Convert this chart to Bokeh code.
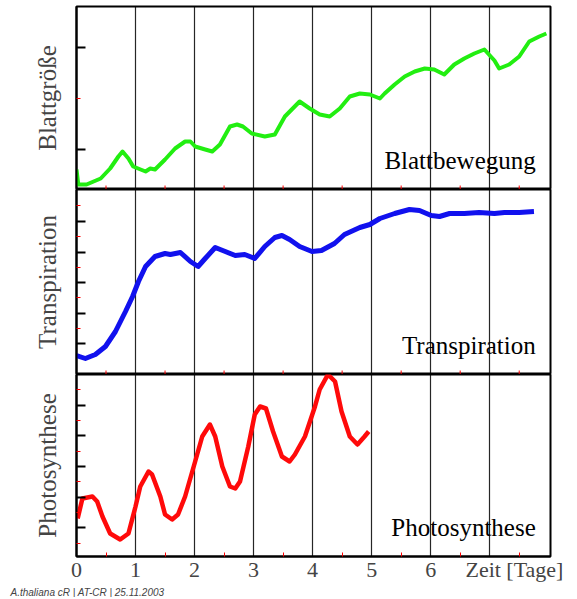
import math
from bokeh.plotting import figure
from bokeh.layouts import column
from bokeh.models import FixedTicker, Label, Range1d, Title
from bokeh.embed import file_html
from bokeh.resources import INLINE

# Blattbewegung (Blattgröße, arbitrary units)
leaf_day = [0, .03, .17, .41, .57, .71, .78, .88, .96, 1.17, 1.25, 1.33, 1.50, 1.67, 1.84, 1.93, 2.01, 2.18, 2.30, 2.43,
            2.60, 2.72, 2.82, 2.97, 3.19, 3.36, 3.53, 3.78, 3.95, 4.12, 4.29, 4.46, 4.63, 4.80, 4.97, 5.14, 5.22, 5.39,
            5.56, 5.73, 5.90, 6.06, 6.23, 6.40, 6.57, 6.74, 6.91, 7.08, 7.16, 7.33, 7.50, 7.67, 7.84, 7.96]
leaf_val = [20, 5, 5, 11, 21, 33, 38, 31, 23, 18, 21, 20, 30, 41, 48, 48, 43, 40, 38, 45, 63, 65, 63, 56, 53, 55, 73, 88,
            81, 75, 73, 81, 93, 96, 95, 91, 96, 105, 113, 118, 121, 120, 115, 125, 131, 136, 140, 129, 121, 125, 133,
            148, 153, 156]
# Transpiration
tr_day = [0, .15, .32, .49, .66, .83, .95, 1.05, 1.17, 1.33, 1.50, 1.59, 1.76, 1.93, 2.06, 2.18, 2.35, 2.52, 2.69, 2.85,
          3.02, 3.19, 3.36, 3.48, 3.61, 3.78, 3.99, 4.15, 4.37, 4.54, 4.80, 4.97, 5.14, 5.39, 5.64, 5.81, 6.01, 6.15,
          6.32, 6.57, 6.82, 7.08, 7.25, 7.50, 7.75]
tr_val = [19, 16, 20, 28, 43, 63, 78, 93, 108, 118, 121, 120, 122, 113, 108, 116, 127, 123, 119, 120, 116, 128, 137, 139,
          135, 128, 123, 124, 131, 140, 147, 150, 156, 161, 165, 164, 159, 158, 161, 161, 162, 161, 162, 162, 163]
# Photosynthese
ps_day = [.02, .10, .27, .35, .44, .57, .74, .88, 1.00, 1.08, 1.22, 1.28, 1.42, 1.50, 1.62, 1.72, 1.84, 2.01, 2.13, 2.26,
          2.35, 2.47, 2.60, 2.69, 2.77, 2.91, 3.02, 3.11, 3.21, 3.33, 3.48, 3.61, 3.70, 3.87, 4.04, 4.12, 4.26, 4.38,
          4.49, 4.63, 4.76, 4.88, 4.95]
ps_val = [38, 58, 60, 55, 40, 23, 17, 23, 50, 70, 85, 82, 60, 42, 37, 42, 60, 95, 120, 132, 120, 90, 70, 68, 75, 110, 142,
          150, 148, 125, 100, 95, 102, 120, 150, 167, 182, 175, 145, 120, 112, 120, 125]

day_lines = [1, 2, 3, 4, 5, 6, 7]
half_days = [0.5, 1.5, 2.5, 3.5, 4.5, 5.5, 6.5, 7.5]
x_labels = {0: "0", 1: "1", 2: "2", 3: "3", 4: "4", 5: "5", 6: "6", 7: "\u00a0" * 9 + "Zeit [Tage]"}

FONT = "Liberation Serif"
XMAX = 8.03

panels = [
    dict(name="Blattgröße", text="Blattbewegung", x=leaf_day, y=leaf_val, color="#22ee11", w=4, ymax=183,
         major=[40, 142], minor=[91], fh=183),
    dict(name="Transpiration", text="Transpiration", x=tr_day, y=tr_val, color="#1111ee", w=5, ymax=185,
         major=[31, 61, 92, 122, 153], minor=[46, 77, 107, 138, 169], fh=185),
    dict(name="Photosynthese", text="Photosynthese", x=ps_day, y=ps_val, color="#ff0a0a", w=4.5, ymax=182,
         major=[29, 59, 90, 121, 151], minor=[13, 44, 75, 105, 136, 167], fh=182),
]

figs = []
for i, pd_ in enumerate(panels):
    last = i == 2
    p = figure(frame_width=474, frame_height=pd_["fh"], output_backend="svg", toolbar_location=None,
               x_range=Range1d(0, XMAX), y_range=Range1d(0, pd_["ymax"]),
               min_border_left=76, min_border_right=27,
               min_border_top=6 if i == 0 else 0, min_border_bottom=0)
    p.background_fill_color = "white"
    p.outline_line_color = "black"
    p.outline_line_width = 2
    p.ygrid.visible = False
    p.xgrid.ticker = FixedTicker(ticks=day_lines)
    p.xgrid.grid_line_color = "black"
    p.xgrid.grid_line_width = 1.2
    p.xgrid.grid_line_alpha = 0.85

    ya = p.yaxis[0]
    ya.ticker = FixedTicker(ticks=pd_["major"], minor_ticks=pd_["minor"])
    ya.major_label_overrides = {t: "" for t in pd_["major"]}
    ya.major_label_text_font_size = "1px"
    ya.major_tick_in = 9
    ya.major_tick_out = 0
    ya.major_tick_line_width = 2
    ya.minor_tick_in = 4
    ya.minor_tick_out = 0
    ya.minor_tick_line_color = "red"
    ya.axis_line_width = 2
    ya.axis_label = pd_["name"]
    ya.axis_label_text_font = FONT
    ya.axis_label_text_font_style = "normal"
    ya.axis_label_text_font_size = "25px"
    ya.axis_label_standoff = 16

    xa = p.xaxis[0]
    if last:
        xa.ticker = FixedTicker(ticks=[0, 1, 2, 3, 4, 5, 6, 7], minor_ticks=half_days)
        xa.major_label_overrides = x_labels
        xa.major_label_text_font = FONT
        xa.major_label_text_font_size = "22px"
        xa.major_label_standoff = 0
        xa.major_tick_in = 0
        xa.major_tick_out = 0
        xa.minor_tick_in = 4
        xa.minor_tick_out = 0
        xa.minor_tick_line_color = "red"
        xa.axis_line_width = 2
    else:
        xa.visible = False
        p.scatter(half_days, [0] * len(half_days), marker="dash", angle=math.pi / 2, size=8,
                  line_color="red", line_width=1)

    p.line(pd_["x"], pd_["y"], line_color=pd_["color"], line_width=pd_["w"], line_join="round")
    p.add_layout(Label(x=7.78, y=16, text=pd_["text"], text_align="right", text_font=FONT,
                       text_font_size="25px", text_color="black"))
    figs.append(p)

bp = figs[2]
bp.add_layout(Title(text="A.thaliana cR | AT-CR | 25.11.2003", align="left", offset=-66, standoff=0,
                    text_font="Liberation Sans", text_font_style="italic", text_font_size="10px"), "below")

layout = column(*figs, spacing=0)
open("out.html", "w").write(file_html(layout, INLINE))
